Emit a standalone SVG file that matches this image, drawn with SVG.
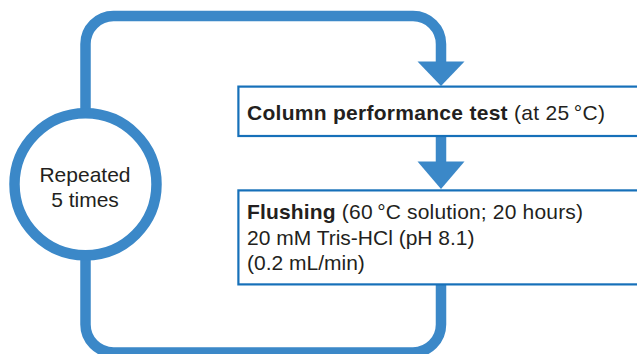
<svg xmlns="http://www.w3.org/2000/svg" width="637" height="354" viewBox="0 0 637 354">
  <style>
    .loop { fill: none; stroke: #3b88c8; stroke-width: 10.5; }
    .head { fill: #3b88c8; }
    .box { fill: #ffffff; stroke: #1670b9; stroke-width: 2.2; }
    .txt { font-family: "Liberation Sans", Arial, sans-serif; font-size: 21px; fill: #231f20; }
    .b { font-weight: bold; }
  </style>
  <rect width="637" height="354" fill="#ffffff"/>
  <g id="connectors">
    <path class="loop" d="M85.5,113 V44 A28,28 0 0 1 113.5,16 H413 A28,28 0 0 1 441,44 V64"/>
    <polygon class="head" points="417.5,61.5 464.5,61.5 441,86"/>
    <path class="loop" d="M441,136 V164"/>
    <polygon class="head" points="417.5,161.5 464.5,161.5 441,189"/>
    <path class="loop" d="M441,285 V324.5 A28,28 0 0 1 413,352.5 H113.5 A28,28 0 0 1 85.5,324.5 V255"/>
  </g>
  <g id="repeat">
    <circle cx="85.5" cy="184.3" r="71" fill="#ffffff" stroke="#3b88c8" stroke-width="10.5"/>
    <text class="txt" x="85" y="181.5" text-anchor="middle">Repeated</text>
    <text class="txt" x="85" y="207" text-anchor="middle">5 times</text>
  </g>
  <g id="test">
    <rect class="box" x="238.4" y="86.6" width="420" height="49.4"/>
    <text class="txt" x="247" y="119.5" textLength="358" lengthAdjust="spacing"><tspan class="b">Column performance test</tspan> (at 25&#8201;°C)</text>
  </g>
  <g id="flushing">
    <rect class="box" x="238.4" y="190.4" width="420" height="94"/>
    <text class="txt" x="247" y="219" textLength="336" lengthAdjust="spacing"><tspan class="b">Flushing</tspan> (60&#8201;°C solution; 20 hours)</text>
    <text class="txt" x="247" y="244.5">20 mM Tris-HCl (pH 8.1)</text>
    <text class="txt" x="247" y="270">(0.2 mL/min)</text>
  </g>
</svg>
